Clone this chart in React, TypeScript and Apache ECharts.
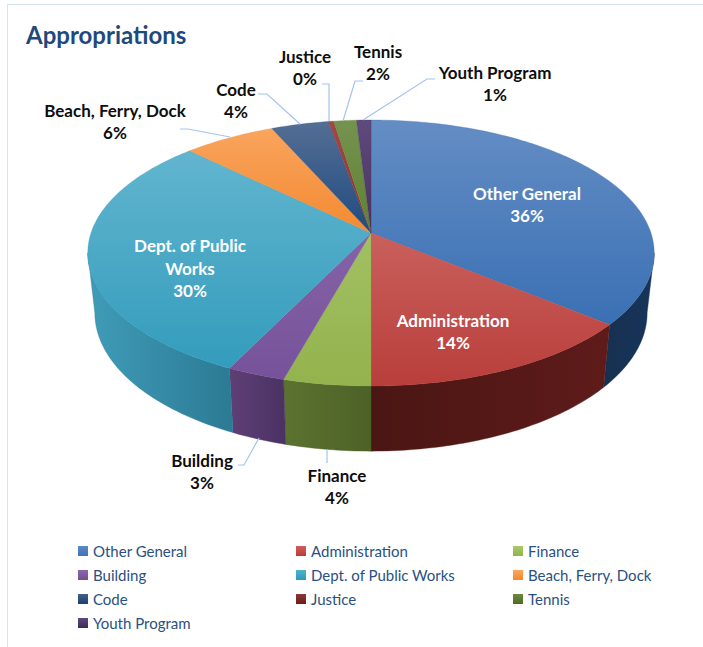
import React, { useEffect, useRef } from "react";
import * as echarts from "echarts";

const TITLE = "Appropriations";
const CATEGORIES = ["Other General", "Administration", "Finance", "Building", "Dept. of Public Works", "Beach, Ferry, Dock", "Code", "Justice", "Tennis", "Youth Program"];
const VALUES = [36, 14, 4.3, 2.9, 30.1, 6.1, 3.8, 0.35, 1.5, 0.95];

const TOP_COLORS = [
  ["#648dc4", "#3a70b4"], ["#c9605c", "#b93e3b"], ["#a2c063", "#93b34d"], ["#8663a8", "#76529a"], ["#62b5cf", "#339cbc"],
  ["#f9a45d", "#f38a31"], ["#546e94", "#1f4b80"], ["#a04a48", "#8c2f2c"], ["#75934f", "#5f8030"], ["#5f4a7e", "#47315f"],
];
const SIDE_COLORS = [
  ["#163050", "#17345a"], ["#4a1613", "#5e1b1a"], ["#5c7330", "#4d6127"], ["#5f3f76", "#4a3263"], ["#3f9cb8", "#2c7a94"],
  ["#b06a2a", "#b06a2a"], ["#173a60", "#173a60"], ["#5e1b1a", "#5e1b1a"], ["#4d6127", "#4d6127"], ["#3a2850", "#3a2850"],
];
const LEGEND_COLORS = [
  ["#5b8ac6", "#3f74b6"], ["#cf5f5b", "#b83c39"], ["#a9c86a", "#93b34d"], ["#8b68ad", "#70518f"], ["#4db3cf", "#2f98b8"],
  ["#fba75c", "#f4872c"], ["#3f6088", "#1f4070"], ["#8c3a38", "#6e1c1a"], ["#6d8a45", "#4f6a25"], ["#5f4a7e", "#3d2a55"],
];

// Label lines per slice: [centre x, centre y of the first line, lines of the name, text colour]
const LABELS: [number, number, string[], string][] = [
  [527, 193, ["Other General"], "#ffffff"],
  [453, 320, ["Administration"], "#ffffff"],
  [337, 475, ["Finance"], "#0d0d0d"],
  [202, 460, ["Building"], "#0d0d0d"],
  [190, 245.5, ["Dept. of Public", "Works"], "#ffffff"],
  [115, 110, ["Beach, Ferry, Dock"], "#0d0d0d"],
  [236, 89, ["Code"], "#0d0d0d"],
  [305, 56, ["Justice"], "#0d0d0d"],
  [378, 51, ["Tennis"], "#0d0d0d"],
  [495, 72, ["Youth Program"], "#0d0d0d"],
];
const LEADERS: number[][][] = [
  [], [],
  [[327, 449], [327, 463]],
  [[238, 465], [244, 465], [259, 438]],
  [],
  [[180, 129], [188, 129], [230, 137]],
  [[258, 94], [267, 94], [300, 124]],
  [[322, 84], [329, 84], [329, 121]],
  [[363, 81], [355, 81], [343, 121]],
  [[435, 79], [427, 79], [363, 120]],
];

// Perspective projection of the disc: apex, radii and foreshortening.
const CX = 371, CY = 233, A = 280, B = 130, K = 0.1504;
// The wall shows between the two widest points of the rim.
const WALL_FROM = 98.6, WALL_TO = 261.4;
const rad = (deg: number) => (deg * Math.PI) / 180;
function project(deg: number, lower: boolean): number[] {
  const u = Math.sin(rad(deg));
  const t = -Math.cos(rad(deg));
  const w = 1 - K * t;
  const X = (A * u) / w;
  const Y = (B * t) / w;
  return lower ? [CX + X * 0.975, CY + Y * 1.04 + 59] : [CX + X, CY + Y];
}
function arc(from: number, to: number, lower: boolean): number[][] {
  const pts: number[][] = [];
  const steps = Math.max(2, Math.ceil(to - from));
  for (let i = 0; i <= steps; i++) pts.push(project(from + ((to - from) * i) / steps, lower));
  return pts;
}

const TOTAL = VALUES.reduce((a, b) => a + b, 0);
const START_ANGLES = VALUES.map((_, i) => (VALUES.slice(0, i).reduce((a, b) => a + b, 0) / TOTAL) * 360);

const vertical = (c: string[]) => ({ type: "linear", x: 0, y: 0, x2: 0, y2: 1, colorStops: [{ offset: 0, color: c[0] }, { offset: 1, color: c[1] }] });
const horizontal = (c: string[]) => ({ type: "linear", x: 0, y: 0, x2: 1, y2: 0, colorStops: [{ offset: 0, color: c[0] }, { offset: 1, color: c[1] }] });

const FONT = "Lato, 'Open Sans', sans-serif";

function legendColumn(left: number, indices: number[]) {
  return {
    left,
    top: 537,
    orient: "vertical",
    selectedMode: false,
    itemWidth: 10,
    itemHeight: 10,
    itemGap: 6,
    icon: "rect",
    data: indices.map((i) => ({ name: CATEGORIES[i], itemStyle: { color: vertical(LEGEND_COLORS[i]) } })),
    textStyle: { fontFamily: FONT, fontSize: 15, color: "#2a5082", lineHeight: 18, padding: [0, 0, 0, 0] },
  };
}

function buildOption() {
  const sideSeries = {
    type: "custom",
    name: "side walls",
    coordinateSystem: "none",
    silent: true,
    z: 1,
    data: VALUES,
    renderItem: (params: any, api: any) => {
      const i = params.dataIndex;
      const start = START_ANGLES[i];
      const end = start + (api.value(0) / TOTAL) * 360;
      const lo = Math.max(start, WALL_FROM);
      const hi = Math.min(end, WALL_TO);
      if (hi <= lo) return { type: "group", children: [] };
      const points = [...arc(lo, hi, false), ...arc(lo, hi, true).reverse()];
      return { type: "polygon", shape: { points }, style: { fill: horizontal(SIDE_COLORS[i]), stroke: SIDE_COLORS[i][1], lineWidth: 0.4 } };
    },
  };
  const topSeries = CATEGORIES.map((name, idx) => ({
    type: "custom",
    name,
    coordinateSystem: "none",
    silent: true,
    z: 2,
    itemStyle: { color: TOP_COLORS[idx][1] },
    data: [VALUES[idx]],
    renderItem: (_: any, api: any) => {
      const start = START_ANGLES[idx];
      const end = start + (api.value(0) / TOTAL) * 360;
      const points = [[CX, CY], ...arc(start, end, false)];
      return { type: "polygon", shape: { points }, style: { fill: vertical(TOP_COLORS[idx]), stroke: TOP_COLORS[idx][1], lineWidth: 0.3 } };
    },
  }));
  const callouts = {
    type: "custom",
    name: "callouts",
    coordinateSystem: "none",
    silent: true,
    z: 3,
    data: VALUES,
    renderItem: (params: any, api: any) => {
      const i = params.dataIndex;
      const [x, y, lines, color] = LABELS[i];
      const text = [...lines, `${Math.round(api.value(0))}%`];
      const children: any[] = text.map((line, n) => ({
        type: "text",
        x,
        y: y + n * 22.5,
        style: { text: line, fill: color, font: `bold 17px ${FONT}`, align: "center", verticalAlign: "middle" },
      }));
      if (LEADERS[i].length) {
        children.push({ type: "polyline", shape: { points: LEADERS[i] }, style: { stroke: "#a4c4ee", lineWidth: 1.2, fill: "none" } });
      }
      return { type: "group", children };
    },
  };
  return {
    animation: false,
    backgroundColor: "#ffffff",
    graphic: [
      { type: "rect", shape: { x: 7.5, y: 4.5, width: 720, height: 700 }, style: { fill: "none", stroke: "#d5e3f4", lineWidth: 1 }, z: -1, silent: true },
      { type: "text", x: 26, y: 34, style: { text: TITLE, fill: "#1f497d", font: `bold 24px ${FONT}`, verticalAlign: "middle" }, silent: true },
    ],
    legend: [legendColumn(73, [0, 3, 6, 9]), legendColumn(291, [1, 4, 7]), legendColumn(508, [2, 5, 8])],
    series: [sideSeries, ...topSeries, callouts],
  };
}

export default function App() {
  const ref = useRef<HTMLDivElement>(null);
  useEffect(() => {
    const chart = echarts.init(ref.current!, undefined, { renderer: "svg" });
    chart.setOption(buildOption() as any);
    return () => chart.dispose();
  }, []);
  return <div ref={ref} style={{ position: "fixed", left: 0, top: 0, width: 703, height: 647 }} />;
}
